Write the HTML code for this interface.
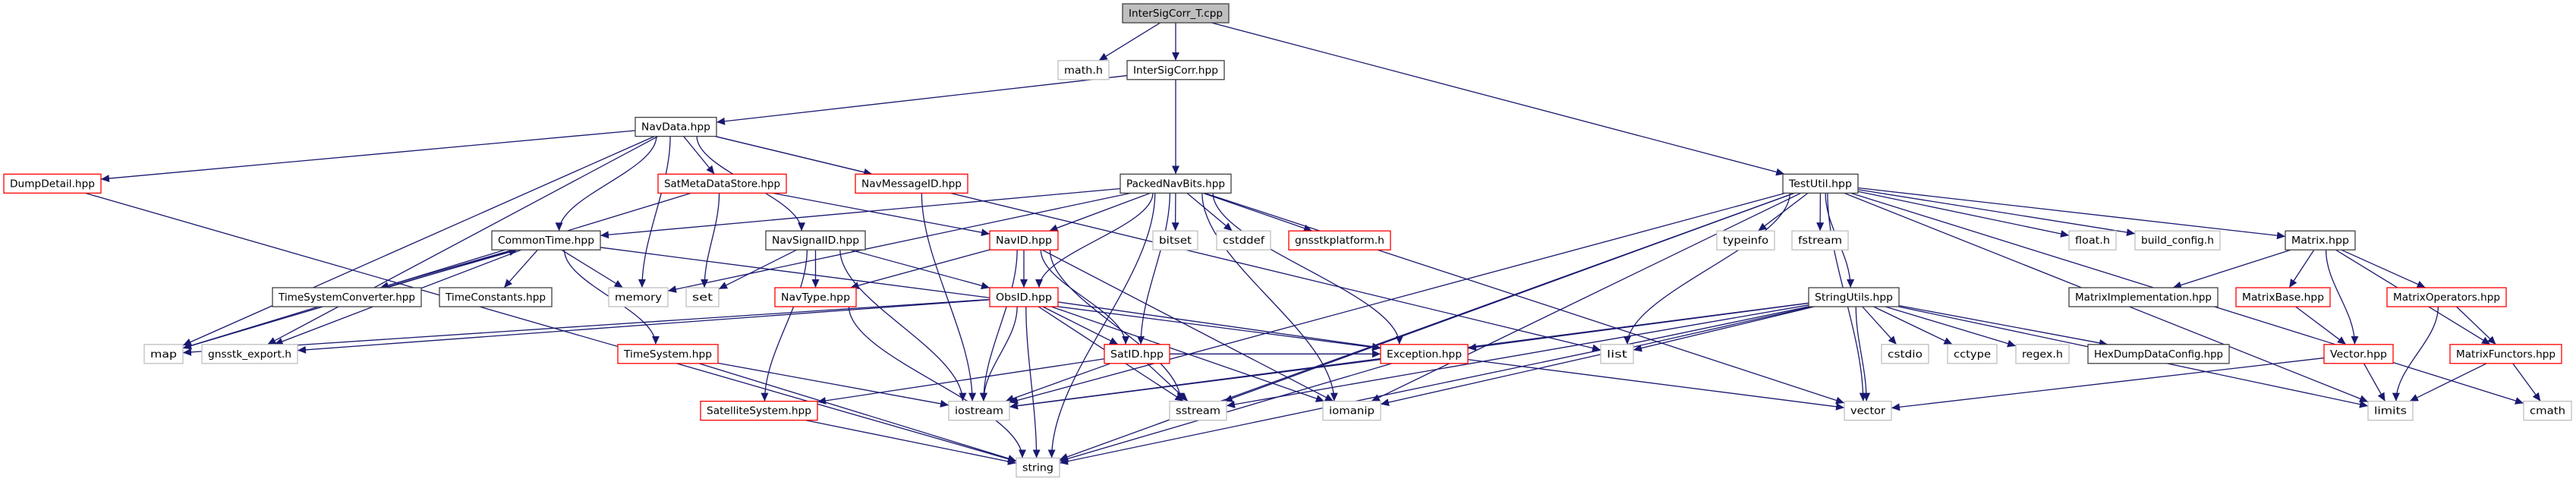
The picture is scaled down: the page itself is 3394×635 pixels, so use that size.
<!DOCTYPE html>
<html><head><meta charset="utf-8"><style>
html,body{margin:0;padding:0;background:#fff;}
svg{display:block;}
text{font-family:"DejaVu Sans","Liberation Sans",sans-serif;font-size:13px;fill:#000;}
</style></head><body>
<svg id="s" width="3394" height="635" viewBox="0 0 3394 635" xmlns="http://www.w3.org/2000/svg">
<defs><marker id="a" markerUnits="userSpaceOnUse" markerWidth="12" markerHeight="10" refX="11" refY="5" orient="auto"><path d="M0,0 L11,5 L0,10 z" fill="#191970"/></marker></defs>
<g id="edges"></g>
<g id="nodes"></g>
</svg>
<div id="labels">
<span data-i="root" data-x="1479" data-w="140" data-r="0" data-t="root">InterSigCorr_T.cpp</span>
<span data-i="math" data-x="1394" data-w="67" data-r="1" data-t="g">math.h</span>
<span data-i="isc" data-x="1485" data-w="128" data-r="1" data-t="k">InterSigCorr.hpp</span>
<span data-i="navdata" data-x="837" data-w="107" data-r="2" data-t="k">NavData.hpp</span>
<span data-i="dump" data-x="5" data-w="128" data-r="3" data-t="r">DumpDetail.hpp</span>
<span data-i="smds" data-x="867" data-w="169" data-r="3" data-t="r">SatMetaDataStore.hpp</span>
<span data-i="nmid" data-x="1127" data-w="148" data-r="3" data-t="r">NavMessageID.hpp</span>
<span data-i="pnb" data-x="1476" data-w="146" data-r="3" data-t="k">PackedNavBits.hpp</span>
<span data-i="tu" data-x="2349" data-w="99" data-r="3" data-t="k">TestUtil.hpp</span>
<span data-i="ct" data-x="648" data-w="143" data-r="4" data-t="k">CommonTime.hpp</span>
<span data-i="nsid" data-x="1009" data-w="131" data-r="4" data-t="k">NavSignalID.hpp</span>
<span data-i="navid" data-x="1304" data-w="90" data-r="4" data-t="r">NavID.hpp</span>
<span data-i="bitset" data-x="1519" data-w="59" data-r="4" data-t="g">bitset</span>
<span data-i="cstddef" data-x="1603" data-w="71" data-r="4" data-t="g">cstddef</span>
<span data-i="plat" data-x="1698" data-w="134" data-r="4" data-t="r">gnsstkplatform.h</span>
<span data-i="typeinfo" data-x="2262" data-w="76" data-r="4" data-t="g">typeinfo</span>
<span data-i="fstream" data-x="2361" data-w="74" data-r="4" data-t="g">fstream</span>
<span data-i="float" data-x="2726" data-w="62" data-r="4" data-t="g">float.h</span>
<span data-i="bcfg" data-x="2813" data-w="112" data-r="4" data-t="g">build_config.h</span>
<span data-i="matrix" data-x="3011" data-w="92" data-r="4" data-t="k">Matrix.hpp</span>
<span data-i="tsc" data-x="359" data-w="196" data-r="5" data-t="k">TimeSystemConverter.hpp</span>
<span data-i="tcon" data-x="579" data-w="148" data-r="5" data-t="k">TimeConstants.hpp</span>
<span data-i="memory" data-x="802" data-w="78" data-r="5" data-t="g">memory</span>
<span data-i="set" data-x="904" data-w="43" data-r="5" data-t="g">set</span>
<span data-i="navtype" data-x="1021" data-w="107" data-r="5" data-t="r">NavType.hpp</span>
<span data-i="obsid" data-x="1304" data-w="90" data-r="5" data-t="r">ObsID.hpp</span>
<span data-i="su" data-x="2383" data-w="119" data-r="5" data-t="k">StringUtils.hpp</span>
<span data-i="mimpl" data-x="2726" data-w="196" data-r="5" data-t="k">MatrixImplementation.hpp</span>
<span data-i="mbase" data-x="2946" data-w="124" data-r="5" data-t="r">MatrixBase.hpp</span>
<span data-i="mops" data-x="3145" data-w="157" data-r="5" data-t="r">MatrixOperators.hpp</span>
<span data-i="map" data-x="190" data-w="51" data-r="6" data-t="g">map</span>
<span data-i="gexp" data-x="266" data-w="126" data-r="6" data-t="g">gnsstk_export.h</span>
<span data-i="ts" data-x="814" data-w="132" data-r="6" data-t="r">TimeSystem.hpp</span>
<span data-i="satid" data-x="1455" data-w="86" data-r="6" data-t="r">SatID.hpp</span>
<span data-i="exc" data-x="1819" data-w="115" data-r="6" data-t="r">Exception.hpp</span>
<span data-i="list" data-x="2109" data-w="43" data-r="6" data-t="g">list</span>
<span data-i="cstdio" data-x="2479" data-w="62" data-r="6" data-t="g">cstdio</span>
<span data-i="cctype" data-x="2566" data-w="65" data-r="6" data-t="g">cctype</span>
<span data-i="regex" data-x="2656" data-w="70" data-r="6" data-t="g">regex.h</span>
<span data-i="hex" data-x="2751" data-w="186" data-r="6" data-t="k">HexDumpDataConfig.hpp</span>
<span data-i="vec" data-x="3062" data-w="91" data-r="6" data-t="r">Vector.hpp</span>
<span data-i="mfun" data-x="3228" data-w="147" data-r="6" data-t="r">MatrixFunctors.hpp</span>
<span data-i="ss" data-x="923" data-w="154" data-r="7" data-t="r">SatelliteSystem.hpp</span>
<span data-i="iostream" data-x="1250" data-w="80" data-r="7" data-t="g">iostream</span>
<span data-i="sstream" data-x="1541" data-w="75" data-r="7" data-t="g">sstream</span>
<span data-i="iomanip" data-x="1743" data-w="76" data-r="7" data-t="g">iomanip</span>
<span data-i="vector" data-x="2430" data-w="62" data-r="7" data-t="g">vector</span>
<span data-i="limits" data-x="3120" data-w="59" data-r="7" data-t="g">limits</span>
<span data-i="cmath" data-x="3325" data-w="63" data-r="7" data-t="g">cmath</span>
<span data-i="string" data-x="1339" data-w="57" data-r="8" data-t="g">string</span>
</div>
<script>
(function(){
var ns="http://www.w3.org/2000/svg",ng=document.getElementById("nodes"),eg=document.getElementById("edges");
var col={g:"#bfbfbf",k:"#404040",r:"#ff0000",root:"#404040"};
var G={};
var src=document.querySelectorAll("#labels span");
for(var i=0;i<src.length;i++){
  var sp=src[i];
  var x=+sp.getAttribute("data-x"),w=+sp.getAttribute("data-w"),r=+sp.getAttribute("data-r"),t=sp.getAttribute("data-t"),y=5+r*74.8;
  G[sp.getAttribute("data-i")]={x:x,y:y,w:w,h:25,cx:x+w/2,cy:y+12.5};
  var rc=document.createElementNS(ns,"rect");
  rc.setAttribute("x",x);rc.setAttribute("y",y);rc.setAttribute("width",w);rc.setAttribute("height",25);
  rc.setAttribute("fill",t=="root"?"#bfbfbf":"#fff");rc.setAttribute("stroke",col[t]);rc.setAttribute("stroke-width","1.3");
  ng.appendChild(rc);
  var tx=document.createElementNS(ns,"text");
  tx.setAttribute("x",x+w/2);tx.setAttribute("y",y+17);tx.setAttribute("text-anchor","middle");
  tx.setAttribute("textLength",w-16);tx.setAttribute("lengthAdjust","spacingAndGlyphs");
  tx.textContent=sp.textContent;ng.appendChild(tx);
}
document.getElementById("labels").style.display="none";
var E="root>math root>isc root>tu isc>navdata isc>pnb navdata>dump navdata>map navdata>gexp navdata>ct navdata>memory navdata>smds navdata>nsid navdata>nmid navdata>list dump>string smds>set smds>navid smds>map ct>tsc ct>tcon ct>memory ct>ts ct>gexp ct>exc ct>map tsc>ct ts>iostream ts>string nsid>set nsid>navtype nsid>obsid nsid>ss nsid>iostream nmid>iostream navid>navtype navid>obsid navid>iostream navid>satid navid>sstream navid>iomanip obsid>map obsid>gexp obsid>iostream obsid>string obsid>satid obsid>sstream obsid>iomanip obsid>exc satid>ss satid>iostream satid>sstream satid>exc ss>string navtype>string pnb>memory pnb>ct pnb>navid pnb>obsid pnb>satid pnb>bitset pnb>cstddef pnb>plat pnb>exc pnb>string pnb>vector pnb>iomanip exc>iostream exc>string exc>vector tu>iostream tu>sstream tu>iomanip tu>string tu>list tu>typeinfo tu>fstream tu>su tu>vector tu>float tu>bcfg tu>matrix tu>cmath tu>limits su>exc su>list su>iostream su>iomanip su>sstream su>string su>cstdio su>cctype su>regex su>hex su>vector su>limits matrix>mimpl matrix>mbase matrix>vec matrix>mops matrix>mfun mbase>vec mops>mfun mops>limits vec>limits vec>vector mfun>limits mfun>cmath".split(" ");
function clip(b,dx,dy){var t=Math.min(Math.abs(dx)>1e-6?b.w/2/Math.abs(dx):1e9,Math.abs(dy)>1e-6?b.h/2/Math.abs(dy):1e9);return [b.cx+dx*t,b.cy+dy*t];}
function cl(v,a,b){return Math.max(a,Math.min(b,v));}
for(var j=0;j<E.length;j++){
  var p=E[j].split(">"),s=G[p[0]],tg=G[p[1]];if(!s||!tg)continue;
  var off=(p[0]=="tsc"&&p[1]=="ct")?6:0;
  var dx=tg.cx-s.cx,dy=tg.cy-s.cy,d;
  if(dy>100 && Math.abs(dx)<1.5*dy){
    var sx=s.cx+cl(dx*0.15,-s.w/2+8,s.w/2-8), sy=s.y+s.h;
    var ex=tg.cx+cl(-dx*0.1,-tg.w/2+8,tg.w/2-8), ey=tg.y;
    var k=dy*0.3;
    d="M"+sx+","+sy+" C"+sx+","+(sy+k)+" "+ex+","+(ey-k)+" "+ex+","+ey;
  } else {
    var a=clip(s,dx,dy),b=clip(tg,-dx,-dy);
    d="M"+(a[0]+off)+","+a[1]+" L"+(b[0]+off)+","+b[1];
  }
  var l=document.createElementNS(ns,"path");
  l.setAttribute("d",d);
  l.setAttribute("fill","none");l.setAttribute("stroke","#191970");l.setAttribute("stroke-width","1.3");
  l.setAttribute("marker-end","url(#a)");eg.appendChild(l);
}
})();
</script>
</body></html>
